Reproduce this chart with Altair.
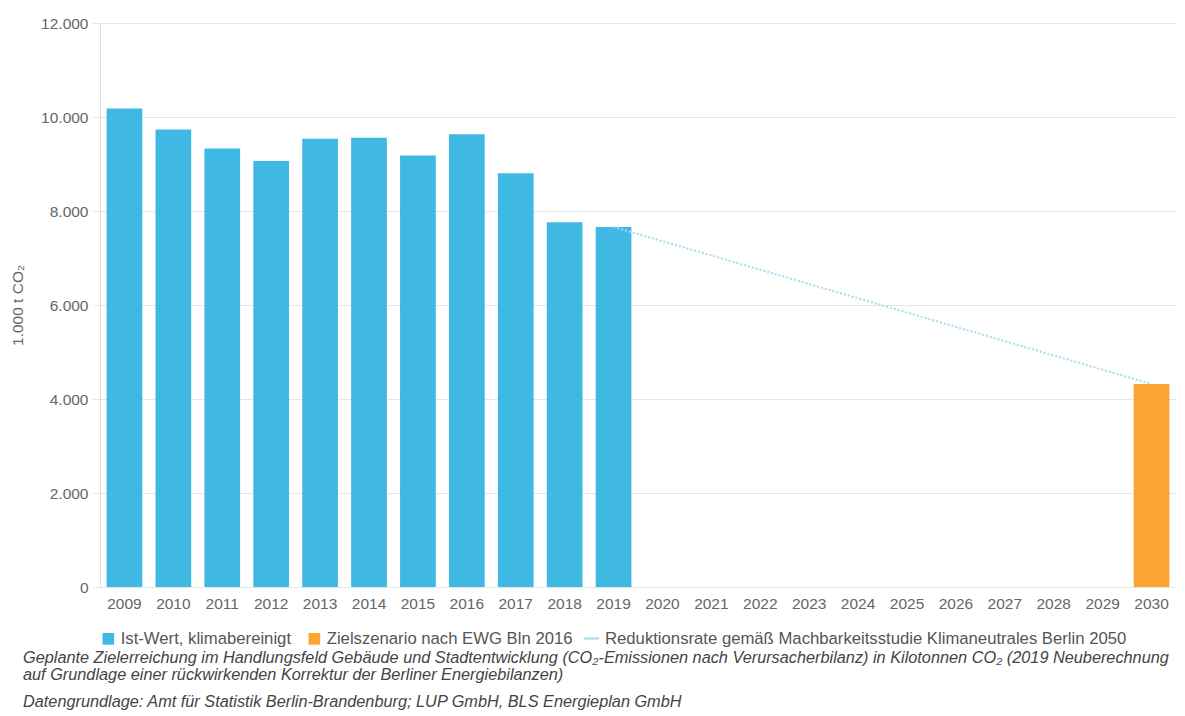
import altair as alt
import pandas as pd

FONT = "Liberation Sans"

# ---- data ----
all_years = [str(y) for y in range(2009, 2031)]

ist_label = "Ist-Wert, klimabereinigt"
ist_years = ["2009", "2010", "2011", "2012", "2013", "2014", "2015", "2016", "2017", "2018", "2019"]
ist_values = [10183, 9732, 9331, 9063, 9535, 9556, 9183, 9634, 8803, 7761, 7662]

ziel_label = "Zielszenario nach EWG Bln 2016"
ziel_years = ["2030"]
ziel_values = [4319]

line_label = "Reduktionsrate gemäß Machbarkeitsstudie Klimaneutrales Berlin 2050"
line_years = ["2019", "2030"]
line_values = [7662, 4319]

y_ticks = [0, 2000, 4000, 6000, 8000, 10000, 12000]

caption_lines = [
    "Geplante Zielerreichung im Handlungsfeld Gebäude und Stadtentwicklung (CO\u2082-Emissionen nach Verursacherbilanz) in Kilotonnen CO\u2082 (2019 Neuberechnung",
    "auf Grundlage einer rückwirkenden Korrektur der Berliner Energiebilanzen)",
]
source_line = "Datengrundlage: Amt für Statistik Berlin-Brandenburg; LUP GmbH, BLS Energieplan GmbH"

BLUE = "#3fb8e3"
ORANGE = "#fba432"
LINE_BLUE = "#a6dbef"

bars_df = pd.DataFrame({
    "Jahr": ist_years + ziel_years,
    "Wert": ist_values + ziel_values,
    "Reihe": [ist_label] * len(ist_years) + [ziel_label] * len(ziel_years),
})
line_df = pd.DataFrame({
    "Jahr": line_years,
    "Wert": line_values,
    "Reihe": [line_label] * len(line_years),
})

x_enc = alt.X(
    "Jahr:N",
    scale=alt.Scale(domain=all_years, paddingInner=0.27, paddingOuter=0.135),
    axis=alt.Axis(
        title=None, labelAngle=0, domain=False, ticks=False, grid=False,
        labelPadding=9, labelFontSize=15.5, labelColor="#666666", labelFont=FONT,
    ),
)
y_enc = alt.Y(
    "Wert:Q",
    scale=alt.Scale(domain=[0, 12000], nice=False),
    axis=alt.Axis(
        title="1.000 t CO\u2082", values=y_ticks,
        labelExpr="replace(format(datum.value, ',d'), ',', '.')",
        grid=True, gridColor="#e6e6e6", gridWidth=1,
        domain=True, domainColor="#dddddd",
        ticks=True, tickColor="#e6e6e6", tickSize=8,
        labelPadding=4, labelFontSize=15.5, labelColor="#666666", labelFont=FONT,
        titlePadding=15, titleFontSize=15.5, titleFontWeight="normal",
        titleColor="#666666", titleFont=FONT,
    ),
)

bars = alt.Chart(bars_df).mark_bar().encode(
    x=x_enc,
    y=y_enc,
    color=alt.Color(
        "Reihe:N",
        scale=alt.Scale(domain=[ist_label, ziel_label], range=[BLUE, ORANGE]),
        legend=alt.Legend(
            title=None, orient="none", legendX=0, legendY=607, direction="horizontal",
            symbolType="square", symbolSize=135, symbolStrokeWidth=0, symbolOpacity=1,
            labelFontSize=16.7, labelColor="#555555", labelFont=FONT, labelLimit=1000,
            labelOffset=4, columnPadding=14, padding=0,
        ),
    ),
)

line = alt.Chart(line_df).mark_line(strokeDash=[2, 2], strokeWidth=2).encode(
    x=alt.X("Jahr:N"),
    y=alt.Y("Wert:Q"),
    stroke=alt.Stroke(
        "Reihe:N",
        scale=alt.Scale(domain=[line_label], range=[LINE_BLUE]),
        legend=alt.Legend(
            title=None, orient="none", legendX=483, legendY=607, direction="horizontal",
            symbolType="stroke", symbolSize=225, symbolStrokeWidth=2, symbolDash=[20, 0],
            labelFontSize=16.7, labelColor="#555555", labelFont=FONT, labelLimit=1000,
            labelOffset=5, padding=0,
        ),
    ),
)

cap1 = alt.Chart(pd.DataFrame({"k": [0]})).mark_text(
    text=caption_lines, align="left", baseline="alphabetic", font=FONT,
    fontSize=16.3, fontStyle="italic", color="#444444", lineHeight=16.5,
).encode(x=alt.value(-77), y=alt.value(640))

cap2 = alt.Chart(pd.DataFrame({"k": [0]})).mark_text(
    text=source_line, align="left", baseline="alphabetic", font=FONT,
    fontSize=16.3, fontStyle="italic", color="#444444",
).encode(x=alt.value(-77), y=alt.value(684))

chart = alt.layer(bars, line, cap1, cap2).resolve_scale(color="independent").properties(
    width=1076, height=564,
    padding={"left": 2, "top": 8, "right": 0, "bottom": 0},
    background="white",
).configure_view(strokeWidth=0)

chart.save("out.html", embed_options={"renderer": "svg", "actions": False})
